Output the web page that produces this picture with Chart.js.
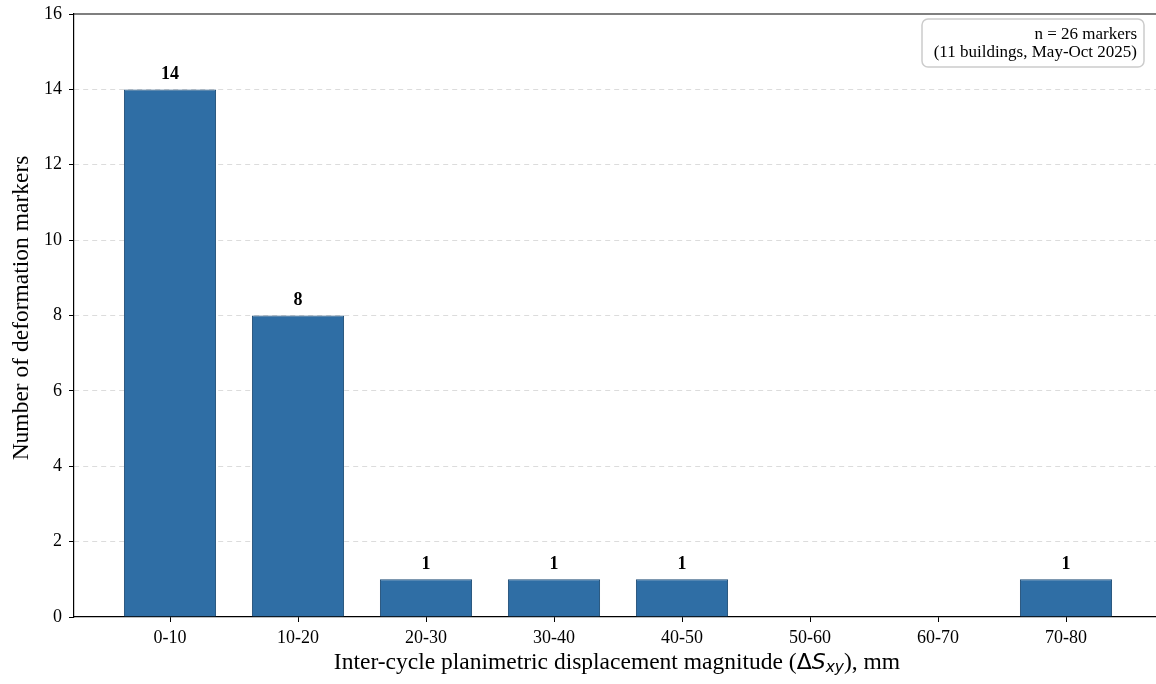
<!DOCTYPE html>
<html>
<head>
<meta charset="utf-8">
<script src="https://cdn.jsdelivr.net/npm/chart.js@4.4.1/dist/chart.umd.min.js"></script>
<style>
  html,body{margin:0;padding:0;background:#fff;overflow:hidden;}
  #wrap{width:1162px;height:684px;}
</style>
</head>
<body>
<div id="wrap"><canvas id="hist" width="1162" height="684"></canvas></div>
<script>
/* ---------- data ---------- */
const binLabels    = ['0-10','10-20','20-30','30-40','40-50','50-60','60-70','70-80'];
const markerCounts = [14, 8, 1, 1, 1, 0, 0, 1];
const noteLines    = ['n = 26 markers', '(11 buildings, May-Oct 2025)'];
const yLabel       = 'Number of deformation markers';

const SERIF = '"Liberation Serif", "Times New Roman", serif';
const BAR_FILL = '#2f6ea5';
const BAR_EDGE = '#1b4a73';

/* ---------- plugins ---------- */
// top spine + axis titles + value labels + note box
const decor = {
  id:'decor',
  afterDraw(chart){
    const {ctx, chartArea:a} = chart;
    ctx.save();
    // top spine
    ctx.strokeStyle = '#000'; ctx.lineWidth = 1.2;
    ctx.beginPath(); ctx.moveTo(a.left, a.top); ctx.lineTo(a.right, a.top); ctx.stroke();

    // value labels above bars
    const meta = chart.getDatasetMeta(0);
    ctx.fillStyle = '#000';
    ctx.font = 'bold 18px ' + SERIF;
    ctx.textAlign = 'center'; ctx.textBaseline = 'bottom';
    meta.data.forEach((bar, i)=>{
      if(!markerCounts[i]) return;
      ctx.fillText(String(markerCounts[i]), bar.x, bar.y - 6);
    });

    // y axis title
    ctx.font = '23.5px ' + SERIF;
    ctx.textBaseline = 'middle';
    ctx.translate(22, 308);
    ctx.rotate(-Math.PI/2);
    ctx.fillText(yLabel, 0, 0);
    ctx.setTransform(1,0,0,1,0,0);

    // x axis title with math part
    const parts = [
      {t:'Inter-cycle planimetric displacement magnitude (', f:'23.5px ' + SERIF, dy:0},
      {t:'\u0394', f:'22px "DejaVu Sans", sans-serif', dy:0},
      {t:'S', f:'italic 22px "DejaVu Sans", sans-serif', dy:0},
      {t:'xy', f:'italic 15.5px "DejaVu Sans", sans-serif', dy:5},
      {t:'), mm', f:'23.5px ' + SERIF, dy:0}
    ];
    let total = 0;
    parts.forEach(p=>{ ctx.font = p.f; p.w = ctx.measureText(p.t).width; total += p.w; });
    let x = 617 - total/2;
    const yT = 663;
    ctx.textAlign = 'left'; ctx.textBaseline = 'middle';
    parts.forEach(p=>{ ctx.font = p.f; ctx.fillText(p.t, x, yT + p.dy); x += p.w; });

    // note box
    const bx = 922, by = 19, bw = 222, bh = 48;
    ctx.beginPath();
    ctx.roundRect(bx, by, bw, bh, 6);
    ctx.fillStyle = 'rgba(255,255,255,0.85)'; ctx.fill();
    ctx.strokeStyle = '#cccccc'; ctx.lineWidth = 1.5; ctx.stroke();
    ctx.fillStyle = '#000';
    ctx.font = '17px ' + SERIF;
    ctx.textAlign = 'right';
    ctx.fillText(noteLines[0], 1137, 35);
    ctx.fillText(noteLines[1], 1137, 53);
    ctx.restore();
  }
};

/* ---------- chart ---------- */
Chart.defaults.font.family = SERIF;
Chart.defaults.color = '#000';

new Chart(document.getElementById('hist'), {
  type:'bar',
  data:{
    datasets:[{
      data: markerCounts.map((v,i)=>({x:i, y:v})),
      backgroundColor: BAR_FILL,
      borderColor: BAR_EDGE,
      borderWidth: ctx => (ctx.raw && ctx.raw.y ? 1 : 0),
      borderSkipped: 'start',
      barPercentage: 0.72,
      categoryPercentage: 1
    }]
  },
  options:{
    responsive:false,
    animation:false,
    devicePixelRatio:1,
    layout:{padding:{left:0, top:14, right:0, bottom:0}},
    plugins:{legend:{display:false}, tooltip:{enabled:false}},
    scales:{
      x:{
        type:'linear',
        offset:false,
        min:-0.75, max:7.75,
        afterBuildTicks(scale){ scale.ticks = binLabels.map((_,i)=>({value:i})); },
        afterFit(scale){ scale.height = 67; scale.paddingLeft = 0; scale.paddingRight = 0; },
        ticks:{
          autoSkip:false, maxRotation:0, padding:5,
          font:{size:18, family:SERIF}, color:'#000',
          callback: v => binLabels[v]
        },
        grid:{offset:false, drawOnChartArea:false, drawTicks:true, tickLength:5, tickColor:'#000', tickWidth:1},
        border:{display:true, color:'#000', width:1.2}
      },
      y:{
        min:0, max:16,
        afterFit(scale){ scale.width = 74; scale.paddingTop = 0; scale.paddingBottom = 0; },
        ticks:{stepSize:2, padding:7, font:{size:18, family:SERIF}, color:'#000'},
        grid:{
          color: ctx => (ctx.tick && (ctx.tick.value === 0 || ctx.tick.value === 16)) ? 'rgba(0,0,0,0)' : '#dcdcdc',
          lineWidth:1, drawTicks:true, tickLength:5, tickColor:'#000', tickWidth:1, tickBorderDash:[]
        },
        border:{display:true, color:'#000', width:1.2, dash:[5,4]}
      }
    }
  },
  plugins:[decor]
});
</script>
</body>
</html>
